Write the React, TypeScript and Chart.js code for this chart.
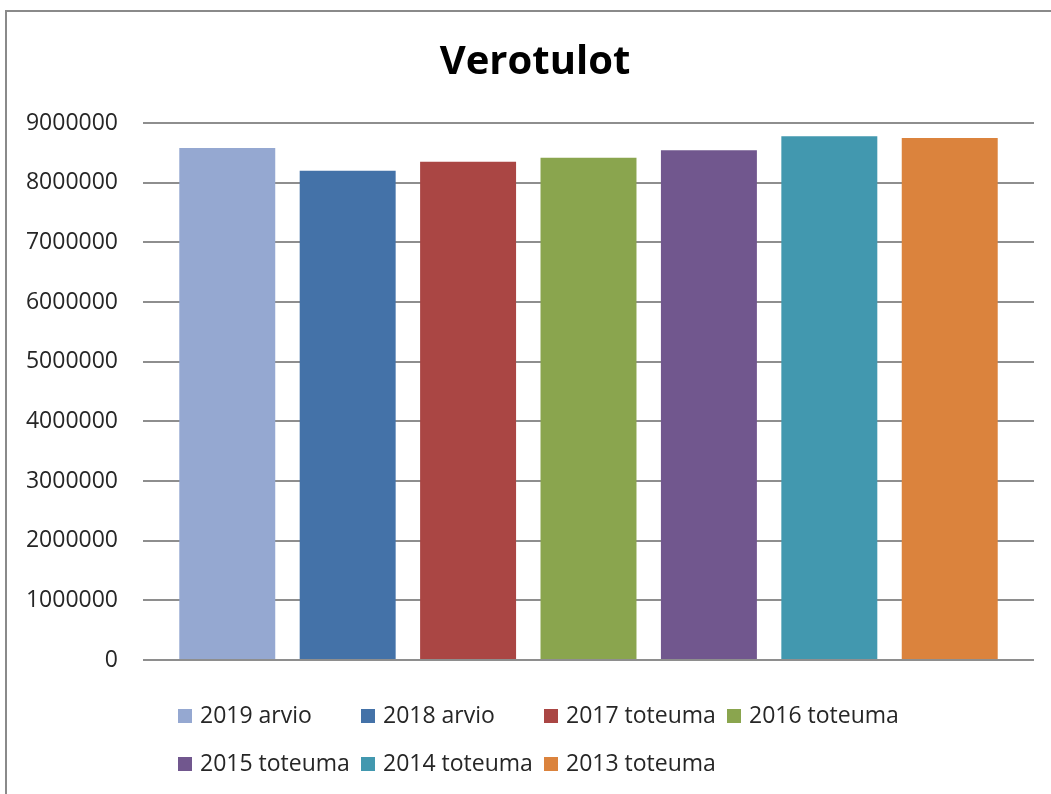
import React, { useEffect, useRef } from "react";
import { Chart, registerables } from "chart.js";

Chart.register(...registerables);

const categories: string[] = [""];
const seriesLabels: string[] = [
  "2019 arvio",
  "2018 arvio",
  "2017 toteuma",
  "2016 toteuma",
  "2015 toteuma",
  "2014 toteuma",
  "2013 toteuma",
];
const seriesValues: number[] = [8583000, 8200000, 8350000, 8417000, 8543000, 8777000, 8750000];
const seriesColors: string[] = ["#95A8D1", "#4472A8", "#AA4644", "#8AA54E", "#71578E", "#4298AF", "#DB833D"];
const yTicks: number[] = [0, 1000000, 2000000, 3000000, 4000000, 5000000, 6000000, 7000000, 8000000, 9000000];
const titleText = "Verotulot";

const FONT = "'Open Sans', 'Noto Sans', sans-serif";

const layoutPlugin = {
  id: "excelLayout",
  afterLayout(chart: any) {
    // centre the title over the whole chart frame (as Excel does)
    const t = chart.titleBlock;
    if (t) {
      t.left = 0;
      t.right = chart.width;
      t.width = chart.width;
    }
  },
  afterDraw(chart: any) {
    const { ctx, chartArea } = chart;
    const x0 = chartArea.left + 35;
    const colW = 183;
    const rowH = 48;
    const base0 = chartArea.bottom + 63;
    ctx.save();
    ctx.font = `23px ${FONT}`;
    ctx.textBaseline = "alphabetic";
    ctx.textAlign = "left";
    chart.data.datasets.forEach((ds: any, i: number) => {
      const col = i % 4;
      const row = Math.floor(i / 4);
      const x = x0 + col * colW;
      const b = base0 + row * rowH;
      ctx.fillStyle = ds.backgroundColor;
      ctx.fillRect(x, b - 14, 14, 14);
      ctx.fillStyle = "#262626";
      ctx.fillText(ds.label, x + 22, b);
    });
    ctx.restore();
  },
};

export default function App() {
  const ref = useRef<HTMLCanvasElement | null>(null);

  useEffect(() => {
    if (!ref.current) return;
    const chart = new Chart(ref.current, {
      type: "bar",
      data: {
        labels: categories,
        datasets: seriesLabels.map((label, i) => ({
          label,
          data: [seriesValues[i]],
          backgroundColor: seriesColors[i],
          borderWidth: 0,
          categoryPercentage: 0.946,
          barPercentage: 0.797,
        })),
      },
      options: {
        responsive: false,
        animation: false,
        devicePixelRatio: 1,
        layout: { padding: { left: 0, right: 36, top: 0, bottom: 134 } },
        plugins: {
          legend: { display: false },
          tooltip: { enabled: false },
          title: {
            display: true,
            text: titleText,
            color: "#000000",
            font: { family: FONT, size: 40, weight: "bold", lineHeight: 1.2 },
            padding: { top: 39, bottom: 36 },
          },
        },
        scales: {
          x: { display: false },
          y: {
            min: 0,
            max: 9000000,
            afterBuildTicks: (scale: any) => {
              scale.ticks = yTicks.map((v) => ({ value: v }));
            },
            afterFit: (scale: any) => {
              scale.width = 143;
            },
            ticks: {
              color: "#262626",
              padding: 25,
              font: { family: FONT, size: 23 },
              callback: (v: any) => String(v),
            },
            grid: { color: "#8e8e8e", lineWidth: 2, drawTicks: false },
            border: { display: false },
          },
        },
      },
      plugins: [layoutPlugin],
    });
    return () => chart.destroy();
  }, []);

  return (
    <div>
      <div
        style={{
          position: "fixed",
          left: 5,
          top: 10,
          width: 2000,
          height: 2000,
          borderLeft: "2px solid #8a8a8a",
          borderTop: "2px solid #8a8a8a",
          pointerEvents: "none",
        }}
      />
      <canvas
        ref={ref}
        width={1070}
        height={794}
        style={{ position: "fixed", left: 0, top: 0, display: "block" }}
      />
    </div>
  );
}
